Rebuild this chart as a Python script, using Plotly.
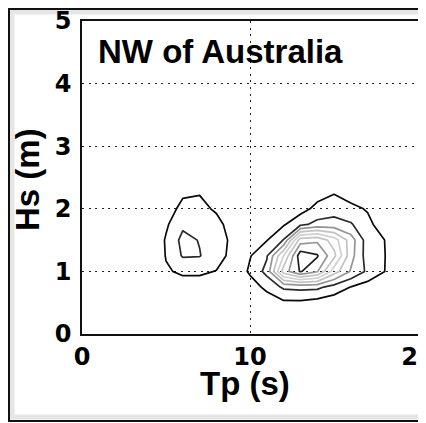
import plotly.graph_objects as go

# Peak period Tp (s) grid and significant wave height Hs (m) grid
tp = [3, 4, 5, 6, 7, 8, 9, 10, 11, 12, 13, 14, 15, 16, 17, 18, 19]
hs = [0.0, 0.25, 0.5, 0.75, 1.0, 1.25, 1.5, 1.75, 2.0, 2.25, 2.5, 2.75, 3.0]

# joint occurrence (arbitrary units), rows = hs, columns = tp
occurrence = [
    [0, 0, 0, 0, 0, 0, 0, 0, 0, 0, 0, 0, 0, 0, 0, 0, 0],
    [0, 0, 0, 0, 0, 0, 0, 0, 0, 0, 0, 0, 0, 0, 0, 0, 0],
    [0, 0, 0, 0.2, 0.2, 0, 0, 0, 0.3, 0.8, 0.8, 0.6, 0.4, 0.2, 0.1, 0, 0],
    [0, 0, 0.3, 0.6, 0.6, 0.3, 0, 0.4, 1.3, 2.18, 2.3, 2.25, 1.6, 0.98, 0.55, 0.3, 0],
    [0, 0, 0.9, 1.15, 1.15, 0.97, 0, 1.2, 2.3, 6.5, 8.1, 7.1, 4.5, 2.9, 1.8, 1.02, 0],
    [0, 0, 1.05, 2.1, 2.05, 1.4, 0.7, 0.93, 1.9, 5.0, 8.6, 8.1, 6.3, 3.4, 1.5, 1.05, 0],
    [0, 0, 1.1, 2.3, 1.95, 1.4, 0.8, 0.3, 0.95, 2.05, 6.5, 6.8, 5.5, 3.5, 1.5, 1.01, 0],
    [0, 0, 0.85, 1.8, 1.6, 1.35, 0.5, 0.1, 0.3, 0.9, 1.75, 2.3, 2.37, 2.1, 1.3, 0.4, 0],
    [0, 0, 0.5, 1.3, 1.3, 0.85, 0, 0, 0.1, 0.3, 0.6, 1.3, 1.6, 1.3, 0.9, 0.1, 0],
    [0, 0, 0.3, 0.85, 0.95, 0.5, 0, 0, 0, 0, 0.2, 0.6, 0.95, 0.5, 0.2, 0, 0],
    [0, 0, 0.1, 0.3, 0.4, 0.2, 0, 0, 0, 0, 0, 0.2, 0.3, 0.2, 0, 0, 0],
    [0, 0, 0, 0, 0, 0, 0, 0, 0, 0, 0, 0, 0, 0, 0, 0, 0],
    [0, 0, 0, 0, 0, 0, 0, 0, 0, 0, 0, 0, 0, 0, 0, 0, 0],
]

x_ticks = [0, 10, 20]
y_ticks = [0, 1, 2, 3, 4, 5]
title_text = "NW of Australia"
x_title = "Tp (s)"
y_title = "Hs (m)"

# grey version of a jet-like map: dark at both ends, light in the middle
level_colors = [
    [0 / 7, "#0a0a0a"],
    [1 / 7, "#2a2a2a"],
    [2 / 7, "#959595"],
    [3 / 7, "#c2c2c2"],
    [4 / 7, "#d0d0d0"],
    [5 / 7, "#c4c4c4"],
    [6 / 7, "#959595"],
    [7 / 7, "#1e1e1e"],
]

fig = go.Figure()
fig.add_trace(go.Contour(
    x=tp, y=hs, z=occurrence,
    contours=dict(start=1, end=8, size=1, coloring="lines"),
    colorscale=level_colors, zmin=1, zmax=8, zauto=False,
    line=dict(width=1.7, smoothing=0),
    showscale=False, hoverinfo="skip",
))

# page has an 8px body margin: figure is placed at (8, 8) of the window
OFF = 8
W, H = 426 - OFF, 423 - OFF
# plot area in window pixels: x 82..418, y 21..334
L = 82 - OFF
T = 21 - OFF
R = W - (418 - OFF)
B = H - (334 - OFF)
pw = W - L - R
ph = H - T - B

def px_x(p):
    return (p - OFF - L) / pw

def px_y(p):
    return (H - B - (p - OFF)) / ph

tick_font = dict(family="DejaVu Sans", size=24, color="black", weight="bold")
grid_dash = "2px,4.6px"

axis_common = dict(
    showgrid=True, gridcolor="#222222", gridwidth=1.4, griddash=grid_dash,
    zeroline=False, showline=True, mirror=True, linecolor="#111111", linewidth=1.6,
    ticks="", tickfont=tick_font, automargin=False, ticklabeloverflow="allow",
)
fig.update_xaxes(range=[0, 20], tickvals=x_ticks, ticktext=[str(v) for v in x_ticks],
                 ticklabelstandoff=0, **axis_common)
fig.update_yaxes(range=[0, 5], tickvals=y_ticks, ticktext=[str(v) for v in y_ticks],
                 ticklabelstandoff=4, **axis_common)

label_font = dict(family="Liberation Sans, Arial", size=33, color="black", weight="bold")

fig.update_layout(
    template="none",
    width=W, height=H,
    margin=dict(l=L, r=R, t=T, b=B, pad=0, autoexpand=False),
    paper_bgcolor="white", plot_bgcolor="white",
    showlegend=False,
    annotations=[
        dict(text=title_text, xref="paper", yref="paper",
             x=px_x(96), y=px_y(51.5), xanchor="left", yanchor="middle",
             showarrow=False, font=dict(family="Liberation Sans, Arial", size=33,
                                        color="black", weight="bold")),
        dict(text=x_title, xref="paper", yref="paper",
             x=px_x(245), y=px_y(383), xanchor="center", yanchor="middle",
             showarrow=False, font=label_font),
        dict(text=y_title, xref="paper", yref="paper", textangle=-90,
             x=px_x(27), y=px_y(180), xanchor="center", yanchor="middle",
             showarrow=False, font=label_font),
    ],
    shapes=[
        dict(type="rect", xref="paper", yref="paper", layer="below",
             x0=px_x(12), x1=px_x(440), y0=px_y(417), y1=px_y(12),
             line=dict(color="#e6e6e6", width=5)),
        dict(type="rect", xref="paper", yref="paper", layer="above",
             x0=px_x(9), x1=px_x(440), y0=px_y(421), y1=px_y(9),
             line=dict(color="#111111", width=2)),
    ],
)

fig.write_html("out.html")
